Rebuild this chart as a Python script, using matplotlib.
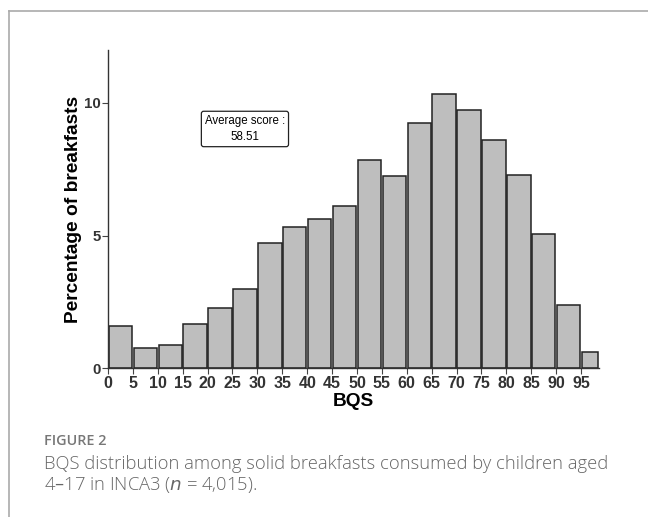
import numpy as np
import matplotlib.pyplot as plt
from matplotlib.lines import Line2D

# BQS bins (left edges) and the last bin's right edge
bin_edges = [0, 5, 10, 15, 20, 25, 30, 35, 40, 45, 50,
             55, 60, 65, 70, 75, 80, 85, 90, 95, 98.5]
pct_breakfasts = [1.60, 0.74, 0.86, 1.65, 2.25, 2.99, 4.72, 5.33, 5.64, 6.11,
                  7.86, 7.25, 9.25, 10.33, 9.74, 8.59, 7.30, 5.05, 2.37, 0.60]
x_ticks = list(range(0, 100, 5))
y_ticks = [0, 5, 10]
avg_score = 58.51

W, H = 648, 517
fig = plt.figure(figsize=(W / 100, H / 100), dpi=100)

# axes placed in pixel coords of the reference
ax = fig.add_axes([108 / W, 1 - 368 / H, (598.5 - 108) / W, (368 - 50) / H])

lefts = np.array(bin_edges[:-1])
widths = np.diff(bin_edges) - 0.3
ax.bar(lefts + 0.15, pct_breakfasts, width=widths, align='edge',
       color='#bebebe', edgecolor='#222222', linewidth=1.1, zorder=2)

ax.set_xlim(0, 98.5)
ax.set_ylim(0, 12)
ax.set_xticks(x_ticks)
ax.set_yticks(y_ticks)

for s in ['top', 'right']:
    ax.spines[s].set_visible(False)
for s in ['left', 'bottom']:
    ax.spines[s].set_color('#333333')
    ax.spines[s].set_linewidth(1.0)

ax.tick_params(axis='both', length=4, width=0.8, color='#444444',
               labelcolor='#333333', pad=1.5)
ax.tick_params(axis='x', labelsize=11.5)
ax.tick_params(axis='y', labelsize=10.8)
for lab in ax.get_xticklabels() + ax.get_yticklabels():
    lab.set_fontfamily('Liberation Sans')
    lab.set_fontweight('bold')

ax.set_xlabel('BQS', fontsize=13.8, fontweight='bold', family='Liberation Sans',
              labelpad=1.5)
ax.set_ylabel('Percentage of breakfasts', fontsize=13.8, fontweight='bold',
              family='Liberation Sans', labelpad=1)

ax.text(27.5, 9.02, 'Average score :\n%.2f' % avg_score, ha='center', va='center',
        fontsize=8.3, family='Liberation Sans', linespacing=1.5,
        bbox=dict(boxstyle='round,pad=0.3,rounding_size=0.2', fc='white',
                  ec='#222222', lw=0.9))

# outer frame of the figure panel
fig.add_artist(Line2D([9 / W, 1], [1 - 11 / H, 1 - 11 / H], color='#aaaaaa', lw=1.2))
fig.add_artist(Line2D([9 / W, 9 / W], [0, 1 - 11 / H], color='#aaaaaa', lw=1.2))

# caption
fig.text(44 / W, 1 - 441 / H, 'FIGURE 2', fontsize=10.4, color='#777777',
         family='Open Sans', fontweight='semibold', va='center')
fig.text(44 / W, 1 - 464 / H,
         'BQS distribution among solid breakfasts consumed by children aged',
         fontsize=13.2, color='#666666', family='Open Sans', fontweight='light',
         va='center')
fig.text(44 / W, 1 - 485 / H, '4\u201317 in INCA3 ($n$ = 4,015).',
         fontsize=13.2, color='#666666', family='Open Sans', fontweight='light',
         va='center')

fig.savefig('out.png', dpi=100)
